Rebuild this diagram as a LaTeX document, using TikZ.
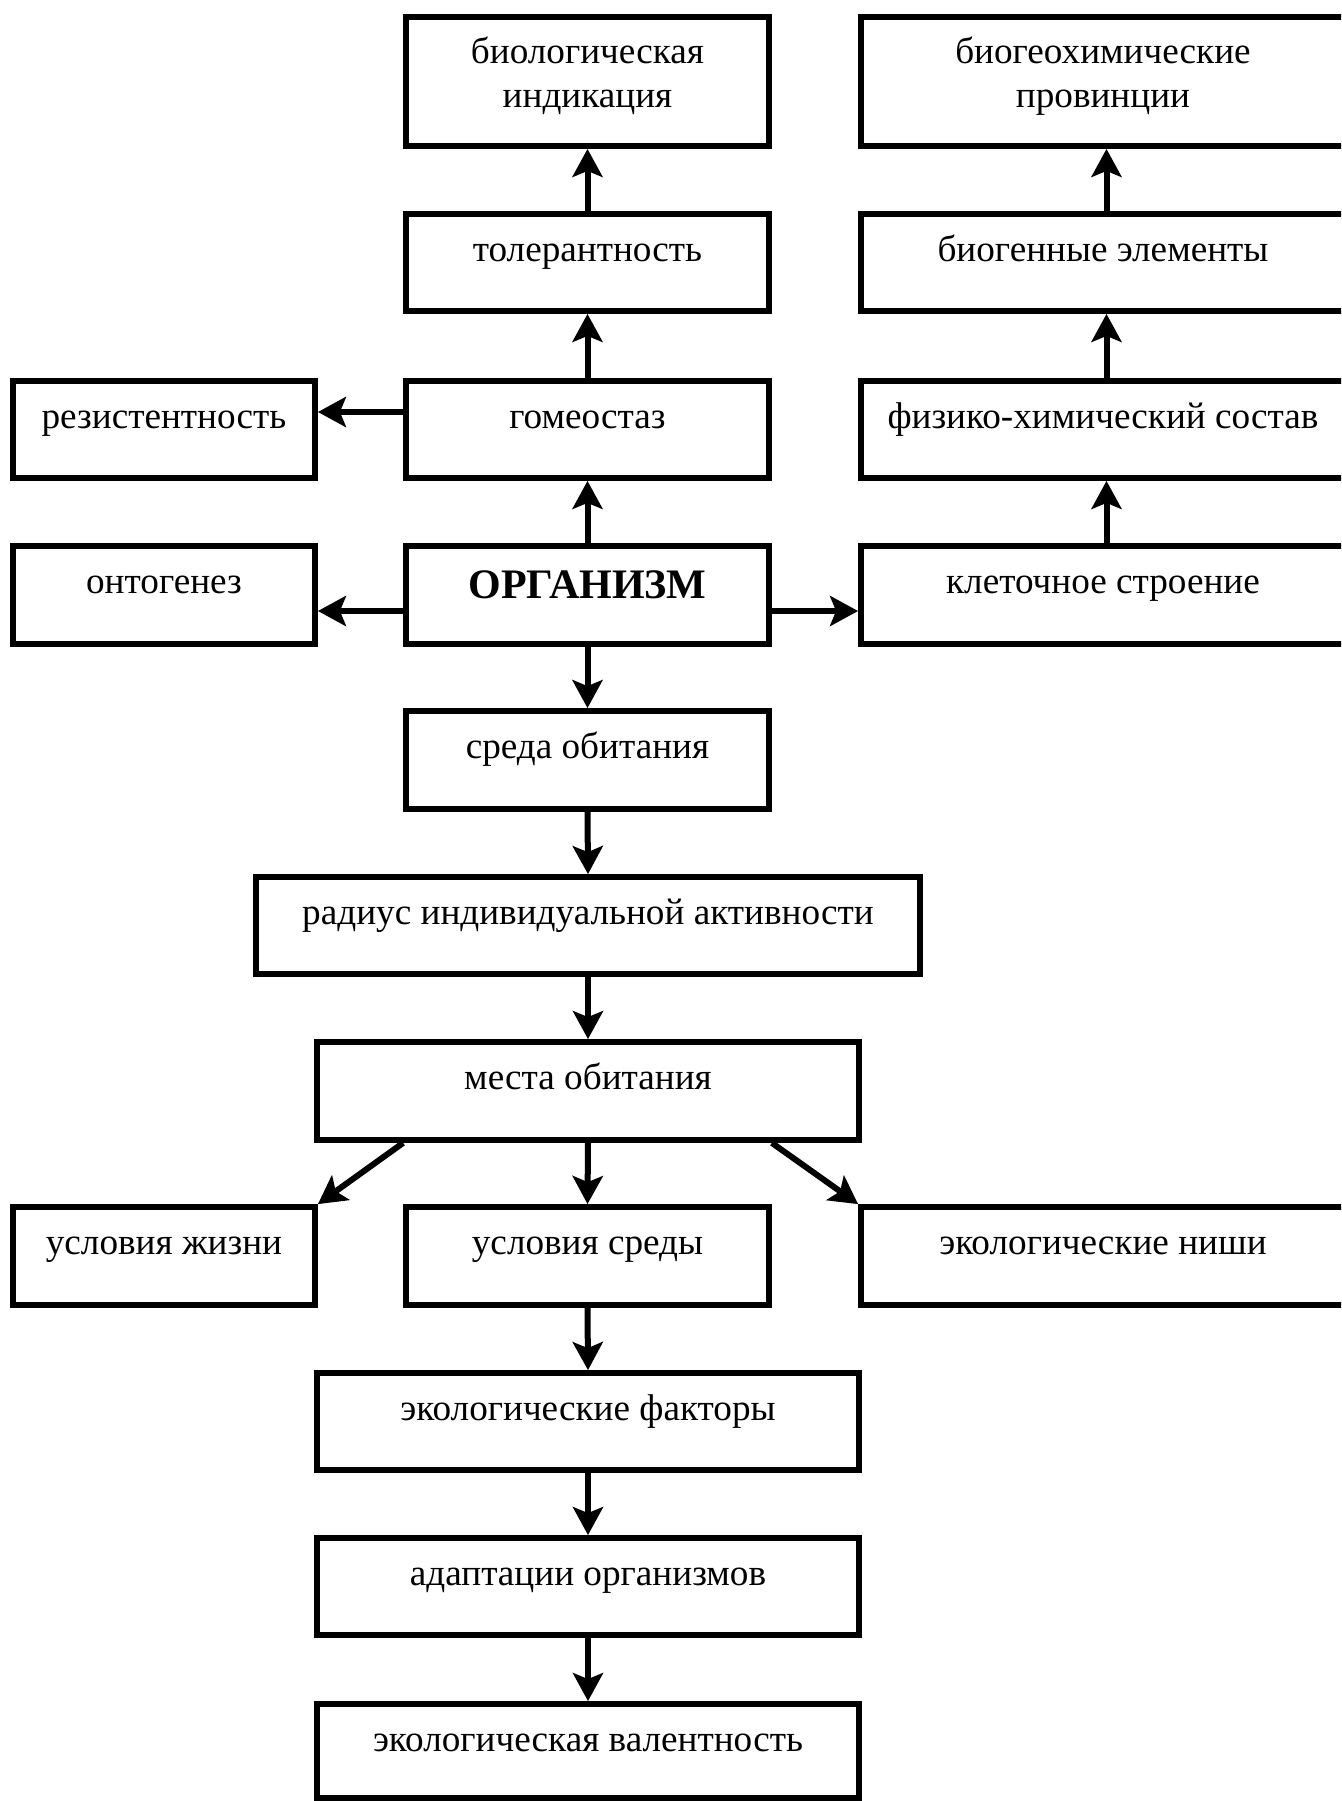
\documentclass[tikz,border=0pt]{standalone}
\usepackage{fontspec}
\setmainfont{Liberation Serif}
\usetikzlibrary{arrows.meta,fit}
\begin{document}
\begin{tikzpicture}[x=0.5pt,y=-0.5pt,
  box/.style={draw, line width=2.9pt, inner sep=0pt, rectangle},
  txt/.style={font=\fontsize{18.6pt}{22pt}\selectfont, inner sep=0pt, anchor=base},
  bold/.style={font=\fontsize{21pt}{24pt}\selectfont\bfseries, inner sep=0pt, anchor=base},
  arr/.style={line width=3pt, -{Stealth[length=14pt,width=15pt,inset=3pt]}}]
\useasboundingbox (0,0) rectangle (1341,1801);
\clip (0,0) rectangle (1341,1801);
% row 1
\node[box, fit={(406,17)(769,146)}] (bio) {};
\node[box, fit={(861,17)(1352,146)}] (bgh) {};
% row 2
\node[box, fit={(406,214)(769,311)}] (tol) {};
\node[box, fit={(861,214)(1352,311)}] (bge) {};
% row 3
\node[box, fit={(13,381)(315,478)}] (rez) {};
\node[box, fit={(406,381)(769,478)}] (gom) {};
\node[box, fit={(861,381)(1352,478)}] (fhs) {};
% row 4
\node[box, fit={(13,546)(315,644)}] (ont) {};
\node[box, fit={(406,546)(769,644)}] (org) {};
\node[box, fit={(861,546)(1352,644)}] (kls) {};
% lower
\node[box, fit={(406,711)(769,809)}] (srd) {};
\node[box, fit={(256,877)(920,974)}] (rad) {};
\node[box, fit={(317,1042)(859,1140)}] (mes) {};
\node[box, fit={(13,1207)(315,1305)}] (uzh) {};
\node[box, fit={(406,1207)(769,1305)}] (usr) {};
\node[box, fit={(861,1207)(1352,1305)}] (eni) {};
\node[box, fit={(317,1373)(859,1470)}] (efk) {};
\node[box, fit={(317,1538)(859,1635)}] (ada) {};
\node[box, fit={(317,1704)(859,1798)}] (val) {};
% texts
\node[txt] (t1a) at (587.5,63) {биологическая};
\node[txt] (t1b) at (587.5,107) {индикация};
\node[txt] (t2a) at (1103,63) {биогеохимические};
\node[txt] (t2b) at (1103,107) {провинции};
\node[txt] (t3) at (587.5,261) {толерантность};
\node[txt] (t4) at (1103,261) {биогенные элементы};
\node[txt] (t5) at (164,428) {резистентность};
\node[txt] (t6) at (587.5,428) {гомеостаз};
\node[txt] (t7) at (1103,428) {физико-химический состав};
\node[txt] (t8) at (164,593) {онтогенез};
\node[bold] (t9) at (587.5,598.5) {ОРГАНИЗМ};
\node[txt] (t10) at (1103,593) {клеточное строение};
\node[txt] (t11) at (587.5,758) {среда обитания};
\node[txt] (t12) at (588,924) {радиус индивидуальной активности};
\node[txt] (t13) at (588,1089) {места обитания};
\node[txt] (t14) at (164,1254) {условия жизни};
\node[txt] (t15) at (587.5,1254) {условия среды};
\node[txt] (t16) at (1103,1254) {экологические ниши};
\node[txt] (t17) at (588,1420) {экологические факторы};
\node[txt] (t18) at (588,1585) {адаптации организмов};
\node[txt] (t19) at (588,1751) {экологическая валентность};
% helper coordinates
\coordinate (yg) at (0,412);
\coordinate (yo) at (0,611);
% arrows
\draw[arr] (tol.north) -- (bio.south);
\draw[arr] (gom.north) -- (tol.south);
\draw[arr] (org.north) -- (gom.south);
\draw[arr] (bge.north) -- (bgh.south);
\draw[arr] (fhs.north) -- (bge.south);
\draw[arr] (kls.north) -- (fhs.south);
\draw[arr] (gom.west |- yg) -- (rez.east |- yg);
\draw[arr] (org.west |- yo) -- (ont.east |- yo);
\draw[arr] (org.east |- yo) -- (kls.west |- yo);
\draw[arr] (org.south) -- (srd.north);
\draw[arr] (srd.south) -- (rad.north);
\draw[arr] (rad.south) -- (mes.north);
\draw[arr] (mes.south) -- (usr.north);
\draw[arr] (mes.south -| srd.west) -- (uzh.north east);
\draw[arr] (mes.south -| srd.east) -- (eni.north west);
\draw[arr] (usr.south) -- (efk.north);
\draw[arr] (efk.south) -- (ada.north);
\draw[arr] (ada.south) -- (val.north);
\end{tikzpicture}
\end{document}
